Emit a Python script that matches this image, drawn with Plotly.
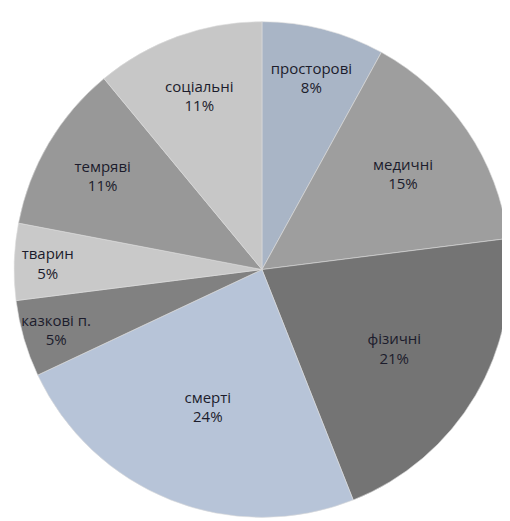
import plotly.graph_objects as go

labels = ["просторові", "медичні", "фізичні", "смерті", "казкові п.", "тварин", "темряві", "соціальні"]
values = [8, 15, 21, 24, 5, 5, 11, 11]
colors = ["#a9b5c6", "#9e9e9e", "#747474", "#b7c4d8", "#818181", "#c9c9c9", "#989898", "#c7c7c7"]

fig = go.Figure(go.Pie(
    labels=labels,
    values=values,
    sort=False,
    direction="clockwise",
    rotation=0,
    marker=dict(colors=colors, line=dict(color="#dcdcdc", width=0.6)),
    texttemplate="%{label}<br>%{value}%",
    textposition="inside",
    insidetextorientation="horizontal",
    textfont=dict(family="Open Sans", size=15, color="#1c1c2c"),
    hoverinfo="label+percent",
    showlegend=False,
    domain=dict(x=[0.012, 0.984], y=[0.013, 0.983]),
))

fig.update_layout(
    width=510, height=521,
    margin=dict(l=0, r=0, t=0, b=0),
    paper_bgcolor="white",
    plot_bgcolor="white",
    uniformtext=dict(minsize=15, mode="show"),
)

fig.write_html("out.html")
